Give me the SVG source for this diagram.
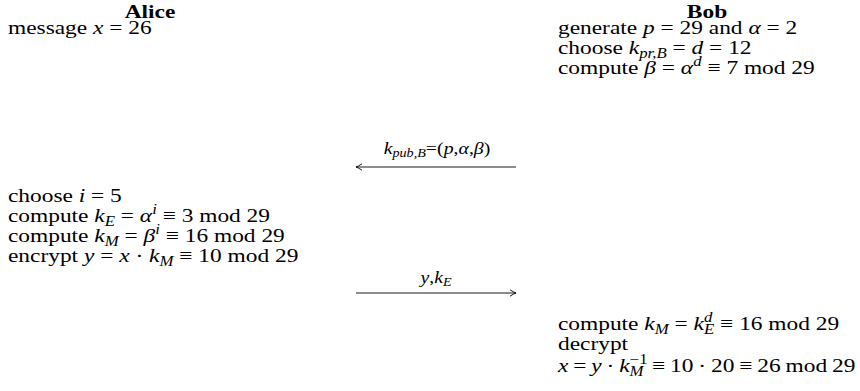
<svg xmlns="http://www.w3.org/2000/svg" width="860" height="391" viewBox="0 0 860 391">
<style>
text{font-family:"Liberation Serif","Times New Roman",serif;font-size:19.5px;fill:#000}
.h{font-weight:bold;text-anchor:middle}
.i{font-style:italic}
.s{font-size:14px}
.lbl{font-size:16.5px;text-anchor:middle}
.ls{font-size:11.8px}
.conn{stroke:#000;stroke-width:0.9;fill:none}
</style>
<defs>
<marker id="ah" viewBox="-8 -4 9 8" markerWidth="9" markerHeight="8" refX="0" refY="0" orient="auto" markerUnits="userSpaceOnUse">
<path d="M-6,-3.2 Q-2,-0.6 0,0 Q-2,0.6 -6,3.2" fill="none" stroke="#000" stroke-width="0.9"/>
</marker>
</defs>
<rect width="860" height="391" fill="#fff"/>
<g id="alice">
<text class="h" x="150" y="18" transform="matrix(1.2 0 0 1 -30 0)">Alice</text>
<text x="8" y="34" transform="matrix(1.2 0 0 1 -1.6 0)">message <tspan class="i">x</tspan> = 26</text>
</g>
<g id="bob">
<text class="h" x="707" y="18" transform="matrix(1.2 0 0 1 -141.4 0)">Bob</text>
<g transform="matrix(1.2 0 0 1 -111.6 0)">
<text x="558" y="34">generate <tspan class="i">p</tspan> = 29 and <tspan class="i">α</tspan> = 2</text>
<text x="558" y="54">choose <tspan class="i">k</tspan><tspan class="i s" dy="4">pr,B</tspan><tspan dy="-4"> = </tspan><tspan class="i">d</tspan> = 12</text>
<text x="558" y="74">compute <tspan class="i">β</tspan> = <tspan class="i">α</tspan><tspan class="i s" dy="-7.5">d</tspan><tspan dy="7.5"> ≡ 7 mod 29</tspan></text>
</g>
</g>
<g id="alice-compute" transform="matrix(1.2 0 0 1 -1.6 0)">
<text x="8" y="202">choose <tspan class="i">i</tspan> = 5</text>
<text x="8" y="222">compute <tspan class="i">k</tspan><tspan class="i s" dy="4">E</tspan><tspan dy="-4"> = </tspan><tspan class="i">α</tspan><tspan class="i s" dy="-7.5">i</tspan><tspan dy="7.5"> ≡ 3 mod 29</tspan></text>
<text x="8" y="242">compute <tspan class="i">k</tspan><tspan class="i s" dy="4">M</tspan><tspan dy="-4"> = </tspan><tspan class="i">β</tspan><tspan class="i s" dy="-7.5">i</tspan><tspan dy="7.5"> ≡ 16 mod 29</tspan></text>
<text x="8" y="262">encrypt <tspan class="i">y</tspan> = <tspan class="i">x</tspan> · <tspan class="i">k</tspan><tspan class="i s" dy="4">M</tspan><tspan dy="-4"> ≡ 10 mod 29</tspan></text>
</g>
<g id="bob-decrypt" transform="matrix(1.2 0 0 1 -111.6 0)">
<text x="558" y="330">compute <tspan class="i">k</tspan><tspan class="i s" dy="4">M</tspan><tspan dy="-4"> = </tspan><tspan class="i">k</tspan><tspan class="i s" dy="-7.5">d</tspan><tspan class="i s" dx="-7" dy="11.5">E</tspan><tspan dy="-4"> ≡ 16 mod 29</tspan></text>
<text x="558" y="350">decrypt</text>
<text x="558" y="372" word-spacing="-0.8"><tspan class="i">x</tspan> = <tspan class="i">y</tspan> · <tspan class="i">k</tspan><tspan class="s" dy="-7.5">−1</tspan><tspan class="i s" dx="-15" dy="11.5">M</tspan><tspan dy="-4" dx="3"> ≡ 10 · 20 ≡ 26 mod 29</tspan></text>
</g>
<g id="connectors">
<line class="conn" x1="516" y1="167" x2="356" y2="167" marker-end="url(#ah)"/>
<text class="lbl" x="437" y="154" transform="matrix(1.2 0 0 1 -87.4 0)"><tspan class="i">k</tspan><tspan class="i ls" dy="3.5">pub,B</tspan><tspan dy="-3.5">=(</tspan><tspan class="i">p</tspan>,<tspan class="i">α</tspan>,<tspan class="i">β</tspan>)</text>
<line class="conn" x1="356" y1="293" x2="516" y2="293" marker-end="url(#ah)"/>
<text class="lbl" x="436" y="283" transform="matrix(1.2 0 0 1 -87.2 0)"><tspan class="i">y</tspan>,<tspan class="i">k</tspan><tspan class="i ls" dy="3.5">E</tspan></text>
</g>
</svg>
